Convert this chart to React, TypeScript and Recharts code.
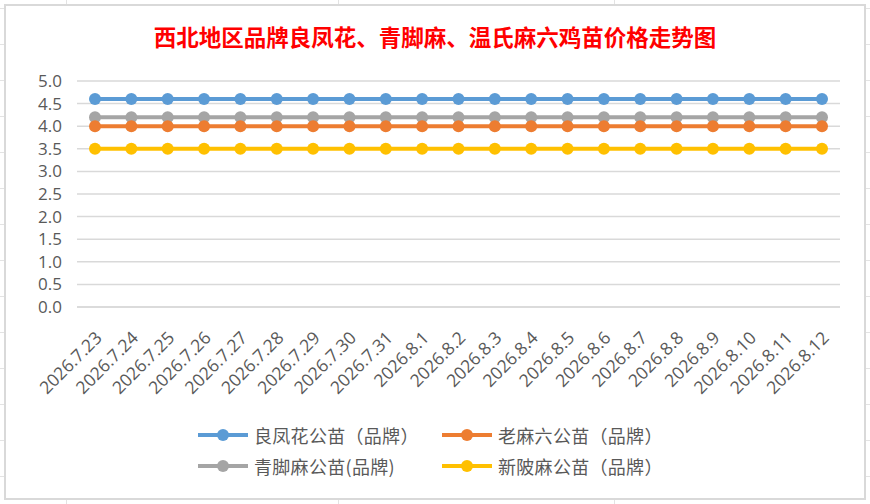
import React from "react"
import { LineChart, Line, XAxis, YAxis, CartesianGrid } from "recharts"

// dates on the category axis
const dates = [
  "2026.7.23", "2026.7.24", "2026.7.25", "2026.7.26", "2026.7.27", "2026.7.28", "2026.7.29",
  "2026.7.30", "2026.7.31", "2026.8.1", "2026.8.2", "2026.8.3", "2026.8.4", "2026.8.5",
  "2026.8.6", "2026.8.7", "2026.8.8", "2026.8.9", "2026.8.10", "2026.8.11", "2026.8.12",
]

// prices per series (flat over the whole period)
const liangFengHua = [4.6, 4.6, 4.6, 4.6, 4.6, 4.6, 4.6, 4.6, 4.6, 4.6, 4.6, 4.6, 4.6, 4.6, 4.6, 4.6, 4.6, 4.6, 4.6, 4.6, 4.6]
const laoMaLiu = [4.0, 4.0, 4.0, 4.0, 4.0, 4.0, 4.0, 4.0, 4.0, 4.0, 4.0, 4.0, 4.0, 4.0, 4.0, 4.0, 4.0, 4.0, 4.0, 4.0, 4.0]
const qingJiaoMa = [4.2, 4.2, 4.2, 4.2, 4.2, 4.2, 4.2, 4.2, 4.2, 4.2, 4.2, 4.2, 4.2, 4.2, 4.2, 4.2, 4.2, 4.2, 4.2, 4.2, 4.2]
const xinLingMa = [3.5, 3.5, 3.5, 3.5, 3.5, 3.5, 3.5, 3.5, 3.5, 3.5, 3.5, 3.5, 3.5, 3.5, 3.5, 3.5, 3.5, 3.5, 3.5, 3.5, 3.5]

const yTicks = [0, 0.5, 1, 1.5, 2, 2.5, 3, 3.5, 4, 4.5, 5]

const title = "西北地区品牌良凤花、青脚麻、温氏麻六鸡苗价格走势图"

// legend order: row by row, as in the picture
const series = [
  { key: "lfh", name: "良凤花公苗（品牌）", color: "#5B9BD5", values: liangFengHua },
  { key: "lml", name: "老麻六公苗（品牌）", color: "#ED7D31", values: laoMaLiu },
  { key: "qjm", name: "青脚麻公苗(品牌)", color: "#A5A5A5", values: qingJiaoMa },
  { key: "xlm", name: "新陂麻公苗（品牌）", color: "#FFC000", values: xinLingMa },
]

const data = dates.map((d, i) => {
  const row: Record<string, string | number> = { date: d }
  series.forEach(s => { row[s.key] = s.values[i] })
  return row
})

const textColor = "#595959"
const tickFont = "'Open Sans', 'Noto Sans', sans-serif"

function DateTick(props: any) {
  const { x, y, payload } = props
  return (
    <text
      transform={`translate(${x + 8},${y + 32}) rotate(-45)`}
      textAnchor="end"
      fill={textColor}
      fontSize={17.5}
      fontFamily={tickFont}
    >
      {payload.value}
    </text>
  )
}

export default function App() {
  // draw order: gray and yellow under, blue on top like the Excel chart
  const drawOrder = ["qjm", "lml", "xlm", "lfh"]

  return (
    <div
      style={{
        position: "absolute",
        left: 0,
        top: 0,
        width: 870,
        height: 504,
        background: "#fff",
        backgroundImage:
          "linear-gradient(to right, transparent 66px, #e3e3e3 66px, #e3e3e3 67px, transparent 67px, transparent 338px, #e3e3e3 338px, #e3e3e3 339px, transparent 339px, transparent 614px, #e3e3e3 614px, #e3e3e3 615px, transparent 615px), repeating-linear-gradient(to bottom, transparent 0px, transparent 8px, #e3e3e3 8px, #e3e3e3 9px, transparent 9px, transparent 36px)",
        overflow: "hidden",
      }}
    >
      {/* chart frame */}
      <div
        style={{
          position: "absolute",
          left: 4,
          top: 4,
          width: 858,
          height: 492,
          border: "2px solid #d9d9d9",
          background: "#fff",
        }}
      />

      <div
        style={{
          position: "absolute",
          left: 0,
          top: 21,
          width: 870,
          textAlign: "center",
          color: "#ff0000",
          fontSize: 22.5,
          fontWeight: 700,
          fontFamily: "'Noto Sans CJK SC', sans-serif",
          lineHeight: "30px",
        }}
      >
        {title}
      </div>

      <div style={{ position: "absolute", left: 0, top: 0 }}>
        <LineChart
          width={870}
          height={504}
          data={data}
          margin={{ top: 81, right: 30, bottom: 107, left: 27 }}
        >
          <CartesianGrid horizontal vertical={false} stroke="#d9d9d9" strokeWidth={1.5} />
          <XAxis
            dataKey="date"
            interval={0}
            height={90}
            padding={{ left: 18, right: 18 }}
            tick={<DateTick />}
            tickLine={false}
            tickSize={0}
            tickMargin={0}
            axisLine={{ stroke: "#d9d9d9", strokeWidth: 1.5 }}
          />
          <YAxis
            domain={[0, 5]}
            ticks={yTicks}
            interval={0}
            width={50}
            axisLine={false}
            tickLine={false}
            tickSize={0}
            tickMargin={15}
            tickFormatter={(v: number) => v.toFixed(1)}
            tick={{ fill: textColor, fontSize: 17, fontFamily: tickFont }}
          />
          {drawOrder.map(k => {
            const s = series.find(x => x.key === k)!
            return (
              <Line
                key={s.key}
                dataKey={s.key}
                name={s.name}
                stroke={s.color}
                strokeWidth={4}
                dot={{ r: 6, fill: s.color, stroke: s.color, strokeWidth: 0 }}
                isAnimationActive={false}
              />
            )
          })}
        </LineChart>
      </div>

      {/* legend, two rows of two */}
      {series.map((s, i) => {
        const col = i % 2
        const row = Math.floor(i / 2)
        const left = col === 0 ? 198 : 442
        const cy = row === 0 ? 435 : 466
        return (
          <div
            key={s.key}
            style={{ position: "absolute", left, top: cy - 13, height: 26, display: "flex", alignItems: "center" }}
          >
            <svg width={50} height={16}>
              <line x1={0} y1={8} x2={50} y2={8} stroke={s.color} strokeWidth={4} strokeLinecap="round" />
              <circle cx={25} cy={8} r={6} fill={s.color} />
            </svg>
            <span
              style={{
                marginLeft: 6,
                fontSize: 18,
                letterSpacing: 0.3,
                color: textColor,
                fontFamily: "'Noto Sans CJK SC', sans-serif",
                whiteSpace: "nowrap",
              }}
            >
              {s.name}
            </span>
          </div>
        )
      })}
    </div>
  )
}
